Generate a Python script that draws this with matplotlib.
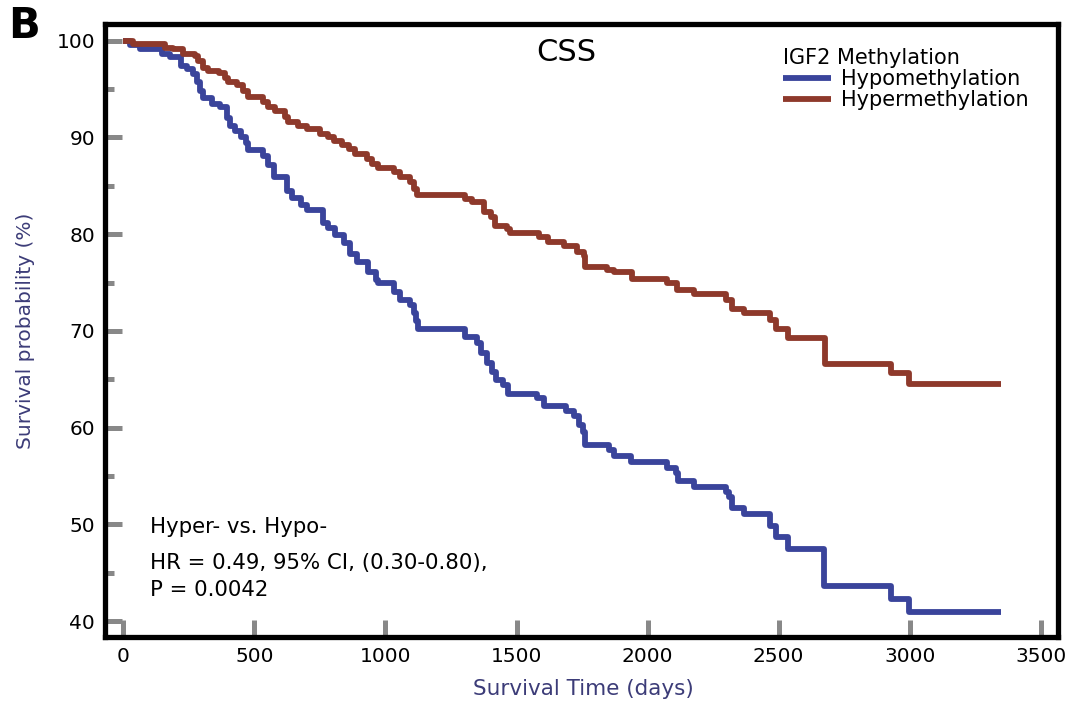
import matplotlib
matplotlib.use("Agg")
import matplotlib.pyplot as plt
from matplotlib.ticker import MultipleLocator

# ---- data ----
blue_days = [0, 27, 65, 149, 179, 218, 244, 267, 282, 294, 302, 340, 370, 397, 408, 427, 447, 466, 477, 531,
             550, 573, 626, 645, 676, 702, 760, 782, 809, 840, 866, 893, 935, 962, 973, 1031, 1057, 1095, 1107, 1115,
             1126, 1305, 1351, 1363, 1389, 1408, 1420, 1450, 1469, 1580, 1603, 1687, 1718, 1737, 1752, 1763, 1851, 1870, 1935, 2076,
             2107, 2115, 2176, 2298, 2309, 2324, 2366, 2469, 2489, 2534, 2672, 2927, 2996]
blue_surv = [100, 99.6, 99.1, 98.6, 98.3, 97.4, 97.1, 96.6, 95.7, 94.8, 94.1, 93.5, 93.1, 92.0, 91.2, 90.7, 90.0, 89.4, 88.7, 88.1,
             87.1, 85.9, 84.5, 83.7, 83.0, 82.5, 81.2, 80.6, 79.9, 79.1, 78.0, 77.1, 76.1, 75.3, 74.9, 74.0, 73.2, 72.7, 71.9, 71.0,
             70.2, 69.4, 68.7, 67.7, 66.7, 65.8, 64.9, 64.4, 63.5, 63.1, 62.2, 61.7, 61.2, 60.3, 59.5, 58.2, 57.7, 57.1, 56.4, 55.8,
             55.3, 54.5, 53.9, 53.3, 52.8, 51.7, 51.1, 49.8, 48.7, 47.5, 43.6, 42.3, 40.9]
red_days = [0, 38, 160, 191, 229, 275, 286, 302, 324, 363, 389, 401, 435, 458, 477, 534, 553, 580, 618, 630,
            668, 702, 752, 779, 802, 836, 859, 885, 931, 950, 973, 1031, 1057, 1095, 1107, 1122, 1305, 1332, 1376, 1403,
            1416, 1462, 1477, 1584, 1622, 1683, 1731, 1758, 1763, 1844, 1870, 1939, 2073, 2113, 2179, 2300, 2321, 2366, 2468, 2489,
            2534, 2676, 2929, 2996]
red_surv = [100, 99.7, 99.3, 99.1, 98.6, 98.4, 97.9, 97.2, 96.9, 96.7, 96.1, 95.7, 95.4, 94.8, 94.2, 93.7, 93.2, 92.7, 92.1, 91.6,
            91.2, 90.9, 90.4, 90.0, 89.6, 89.2, 88.8, 88.3, 87.8, 87.3, 86.8, 86.4, 85.9, 85.4, 84.7, 84.0, 83.6, 83.3, 82.3, 81.8,
            80.8, 80.5, 80.1, 79.7, 79.2, 78.8, 78.2, 77.7, 76.6, 76.3, 76.1, 75.4, 75.0, 74.2, 73.8, 73.2, 72.3, 71.8, 71.1, 70.2,
            69.3, 66.6, 65.6, 64.5]
follow_up_end = 3347
series_labels = ["Hypomethylation", "Hypermethylation"]
x_ticks = [0, 500, 1000, 1500, 2000, 2500, 3000, 3500]
y_ticks = [40, 50, 60, 70, 80, 90, 100]

BLUE = "#3A449B"
RED = "#8E392B"
LABEL_COLOR = "#3C3C78"
TICK_GRAY = "#888888"

plt.rcParams['font.family'] = ['DejaVu Sans']

fig = plt.figure(figsize=(10.78, 7.10), dpi=100)
ax = fig.add_axes([104.5 / 1078, 1 - 637 / 710, (1057.5 - 104.5) / 1078, (637 - 24) / 710])

ax.step(blue_days + [follow_up_end], blue_surv + [blue_surv[-1]], where='post',
        color=BLUE, lw=4.2, label=series_labels[0], zorder=3, solid_capstyle='butt')
ax.step(red_days + [follow_up_end], red_surv + [red_surv[-1]], where='post',
        color=RED, lw=4.2, label=series_labels[1], zorder=3, solid_capstyle='butt')

ax.set_xlim(-72, 3564)
ax.set_ylim(38.35, 101.73)
ax.set_xticks(x_ticks)
ax.set_yticks(y_ticks)
ax.yaxis.set_minor_locator(MultipleLocator(5))

ax.tick_params(axis='both', which='major', direction='in', length=12.5, width=3.6,
               color=TICK_GRAY, labelsize=14.5, labelcolor='black')
ax.tick_params(axis='y', which='minor', direction='in', length=6.5, width=3.6, color=TICK_GRAY)
ax.tick_params(axis='y', which='major', pad=6.8)
ax.tick_params(axis='x', which='major', pad=7)

for s in ax.spines.values():
    s.set_linewidth(3.8)
    s.set_color('black')

ax.set_ylabel("Survival probability (%)", fontsize=14.5, color=LABEL_COLOR)
ax.yaxis.set_label_coords(-0.073, 0.5)
ax.set_xlabel("Survival Time (days)", fontsize=15.5, color=LABEL_COLOR)
ax.xaxis.set_label_coords(0.503, -0.068)

ax.text(0.4843, 0.9543, "CSS", transform=ax.transAxes, fontsize=22, ha='center', va='center')

leg = ax.legend(loc='upper left', bbox_to_anchor=(0.712, 0.961), borderaxespad=0, borderpad=0,
                frameon=False, title="IGF2 Methylation", alignment='left', fontsize=15,
                title_fontsize=15, handlelength=2.3, handletextpad=0.48, labelspacing=0.05)

ann_x = 0.0477
ax.text(ann_x, 0.1794, "Hyper- vs. Hypo-", transform=ax.transAxes, fontsize=15.3, va='center', ha='left')
ax.text(ann_x, 0.1207, "HR = 0.49, 95% CI, (0.30-0.80),", transform=ax.transAxes, fontsize=15.3, va='center', ha='left')
ax.text(ann_x, 0.0767, "P = 0.0042", transform=ax.transAxes, fontsize=15.3, va='center', ha='left')

fig.text(0.008, 1 - 38 / 710, "B", fontsize=30, fontweight='bold', ha='left', va='baseline')

fig.savefig("out.png", dpi=100)
